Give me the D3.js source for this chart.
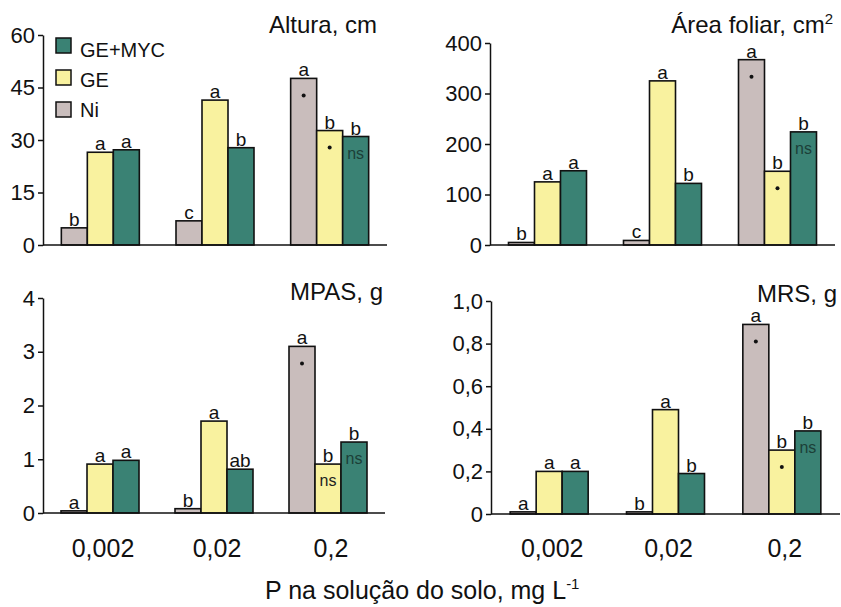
<!DOCTYPE html>
<html>
<head>
<meta charset="utf-8">
<script src="https://cdn.jsdelivr.net/npm/d3@7"></script>
<style>
  body { margin: 0; background: #fff; }
  text { font-family: "Liberation Sans", Arial, sans-serif; fill: #111; }
</style>
</head>
<body>
<svg id="chart" width="841" height="607"></svg>
<script>
// doses de P (categorias)
var categories = ["0,002", "0,02", "0,2"];
var series = ["Ni", "GE", "GE+MYC"];
var legendOrder = ["GE+MYC", "GE", "Ni"];
var colors = { "Ni": "#c9bdbc", "GE": "#f9f29f", "GE+MYC": "#3a8274" };

// Altura, cm
var alturaNi = [4.9, 6.9, 47.6];
var alturaGE = [26.5, 41.4, 32.7];
var alturaMYC = [27.2, 27.8, 31];
var alturaLetters = [["b", "a", "a"], ["c", "a", "b"], ["a", "b", "b"]];
var alturaMarks = [["", "", ""], ["", "", ""], ["dot", "dot", "ns"]];
var alturaTicks = [0, 15, 30, 45, 60];

// Area foliar, cm2
var areaNi = [5, 9, 367];
var areaGE = [125, 325, 146];
var areaMYC = [147, 122, 224];
var areaLetters = [["b", "a", "a"], ["c", "a", "b"], ["a", "b", "b"]];
var areaMarks = [["", "", ""], ["", "", ""], ["dot", "dot", "ns"]];
var areaTicks = [0, 100, 200, 300, 400];

// MPAS, g
var mpasNi = [0.04, 0.08, 3.1];
var mpasGE = [0.91, 1.71, 0.91];
var mpasMYC = [0.98, 0.815, 1.32];
var mpasLetters = [["a", "a", "a"], ["b", "a", "ab"], ["a", "b", "b"]];
var mpasMarks = [["", "", ""], ["", "", ""], ["dot", "ns", "ns"]];
var mpasTicks = [0, 1, 2, 3, 4];

// MRS, g
var mrsNi = [0.01, 0.01, 0.89];
var mrsGE = [0.2, 0.49, 0.3];
var mrsMYC = [0.2, 0.19, 0.39];
var mrsLetters = [["a", "a", "a"], ["b", "a", "b"], ["a", "b", "b"]];
var mrsMarks = [["", "", ""], ["", "", ""], ["dot", "dot", "ns"]];
var mrsTicks = [0, 0.2, 0.4, 0.6, 0.8, 1.0];

function ptFormat(v) {
    if (v === 0) return "0";
    return String(v).replace(".", ",");
}
function ptFormat1(v) {
    if (v === 0) return "0";
    return v.toFixed(1).replace(".", ",");
}

var svg = d3.select("#chart");

var panels = [
    { title: "Altura, cm", sup: null, ni: alturaNi, ge: alturaGE, myc: alturaMYC, letters: alturaLetters, marks: alturaMarks,
      ticks: alturaTicks, fmt: ptFormat, max: 60, left: 43, right: 387, y0: 245, yTop: 35, titleX: 377, titleY: 33, xLabels: false, legend: true },
    { title: "Área foliar, cm", sup: "2", ni: areaNi, ge: areaGE, myc: areaMYC, letters: areaLetters, marks: areaMarks,
      ticks: areaTicks, fmt: ptFormat, max: 400, left: 490, right: 835, y0: 245, yTop: 43, titleX: 833, titleY: 33, xLabels: false, legend: false },
    { title: "MPAS, g", sup: null, ni: mpasNi, ge: mpasGE, myc: mpasMYC, letters: mpasLetters, marks: mpasMarks,
      ticks: mpasTicks, fmt: ptFormat, max: 4, left: 43, right: 385, y0: 513, yTop: 298, titleX: 383, titleY: 300, xLabels: true, legend: false },
    { title: "MRS, g", sup: null, ni: mrsNi, ge: mrsGE, myc: mrsMYC, letters: mrsLetters, marks: mrsMarks,
      ticks: mrsTicks, fmt: ptFormat1, max: 1, left: 491, right: 840, y0: 514, yTop: 301, titleX: 837, titleY: 302, xLabels: true, legend: false }
];

panels.forEach(function(p) {
    var g = svg.append("g");

    var x0 = d3.scaleBand().domain(categories).range([p.left, p.right]).padding(0);
    var x1 = d3.scaleBand().domain(series).range([0, 78]).padding(0);
    var y = d3.scaleLinear().domain([0, p.max]).range([p.y0, p.yTop]);

    // eixo y
    var yAxis = d3.axisLeft(y).tickValues(p.ticks).tickFormat(p.fmt).tickSize(5).tickSizeOuter(0).tickPadding(3);
    var ya = g.append("g").attr("transform", "translate(" + p.left + ",0)").call(yAxis);
    ya.select(".domain").attr("stroke", "#111").attr("stroke-width", 1.5);
    ya.selectAll(".tick line").attr("stroke", "#111").attr("stroke-width", 1.5);
    ya.selectAll(".tick text").style("font-size", "22px").attr("fill", "#111")
        .style("font-family", "'Liberation Sans', Arial, sans-serif");

    var rows = categories.map(function(c, i) {
        return [
            { cat: c, s: "Ni", v: p.ni[i], letter: p.letters[i][0], mark: p.marks[i][0] },
            { cat: c, s: "GE", v: p.ge[i], letter: p.letters[i][1], mark: p.marks[i][1] },
            { cat: c, s: "GE+MYC", v: p.myc[i], letter: p.letters[i][2], mark: p.marks[i][2] }
        ];
    });
    var flat = [].concat.apply([], rows);

    function bx(d) { return x0(d.cat) + (x0.bandwidth() - 78) / 2 + x1(d.s); }

    g.selectAll("rect.bar").data(flat).enter().append("rect")
        .attr("class", "bar")
        .attr("x", bx)
        .attr("y", function(d) { return y(d.v); })
        .attr("width", x1.bandwidth())
        .attr("height", function(d) { return Math.max(p.y0 - y(d.v), 0.5); })
        .attr("fill", function(d) { return colors[d.s]; })
        .attr("stroke", "#111")
        .attr("stroke-width", 1.6);

    // letras
    g.selectAll("text.letter").data(flat).enter().append("text")
        .attr("class", "letter")
        .attr("x", function(d) { return bx(d) + x1.bandwidth() / 2; })
        .attr("y", function(d) { return y(d.v) - 2; })
        .attr("text-anchor", "middle")
        .style("font-size", "19px")
        .text(function(d) { return d.letter; });

    // marcas: ponto ou ns
    g.selectAll("circle.dot").data(flat.filter(function(d) { return d.mark === "dot"; })).enter().append("circle")
        .attr("class", "dot")
        .attr("cx", function(d) { return bx(d) + x1.bandwidth() / 2; })
        .attr("cy", function(d) { return y(d.v) + 17; })
        .attr("r", 2)
        .attr("fill", "#111");

    g.selectAll("text.ns").data(flat.filter(function(d) { return d.mark === "ns"; })).enter().append("text")
        .attr("class", "ns")
        .attr("x", function(d) { return bx(d) + x1.bandwidth() / 2; })
        .attr("y", function(d) { return y(d.v) + 22; })
        .attr("text-anchor", "middle")
        .style("font-size", "16px")
        .style("fill", function(d) { return d.s === "GE+MYC" ? "#1c3f38" : "#222"; })
        .text("ns");

    // linha do eixo x
    g.append("line")
        .attr("x1", p.left).attr("x2", p.right)
        .attr("y1", p.y0).attr("y2", p.y0)
        .attr("stroke", "#111").attr("stroke-width", 1.5);

    if (p.xLabels) {
        g.selectAll("text.xl").data(categories).enter().append("text")
            .attr("class", "xl")
            .attr("x", function(d) { return x0(d) + x0.bandwidth() / 2 + 3; })
            .attr("y", 557)
            .attr("text-anchor", "middle")
            .style("font-size", "25px")
            .text(function(d) { return d; });
    }

    var t = g.append("text")
        .attr("x", p.titleX).attr("y", p.titleY)
        .attr("text-anchor", "end")
        .style("font-size", "24px")
        .text(p.title);
    if (p.sup) {
        t.append("tspan").attr("dy", -9).style("font-size", "15px").text(p.sup);
    }

    if (p.legend) {
        var lg = g.append("g");
        legendOrder.forEach(function(s, i) {
            lg.append("rect")
                .attr("x", 56).attr("y", 38 + i * 32)
                .attr("width", 15).attr("height", 15)
                .attr("fill", colors[s]).attr("stroke", "#111").attr("stroke-width", 1.5);
            lg.append("text")
                .attr("x", 80).attr("y", 57 + i * 30)
                .style("font-size", "20px")
                .text(s);
        });
    }
});

// titulo do eixo x
var xt = svg.append("text")
    .attr("x", 265).attr("y", 599)
    .style("font-size", "25px");
xt.append("tspan").text("P na solução do solo, mg L");
xt.append("tspan").attr("dy", -10).style("font-size", "15px").text("-1");
</script>
</body>
</html>
